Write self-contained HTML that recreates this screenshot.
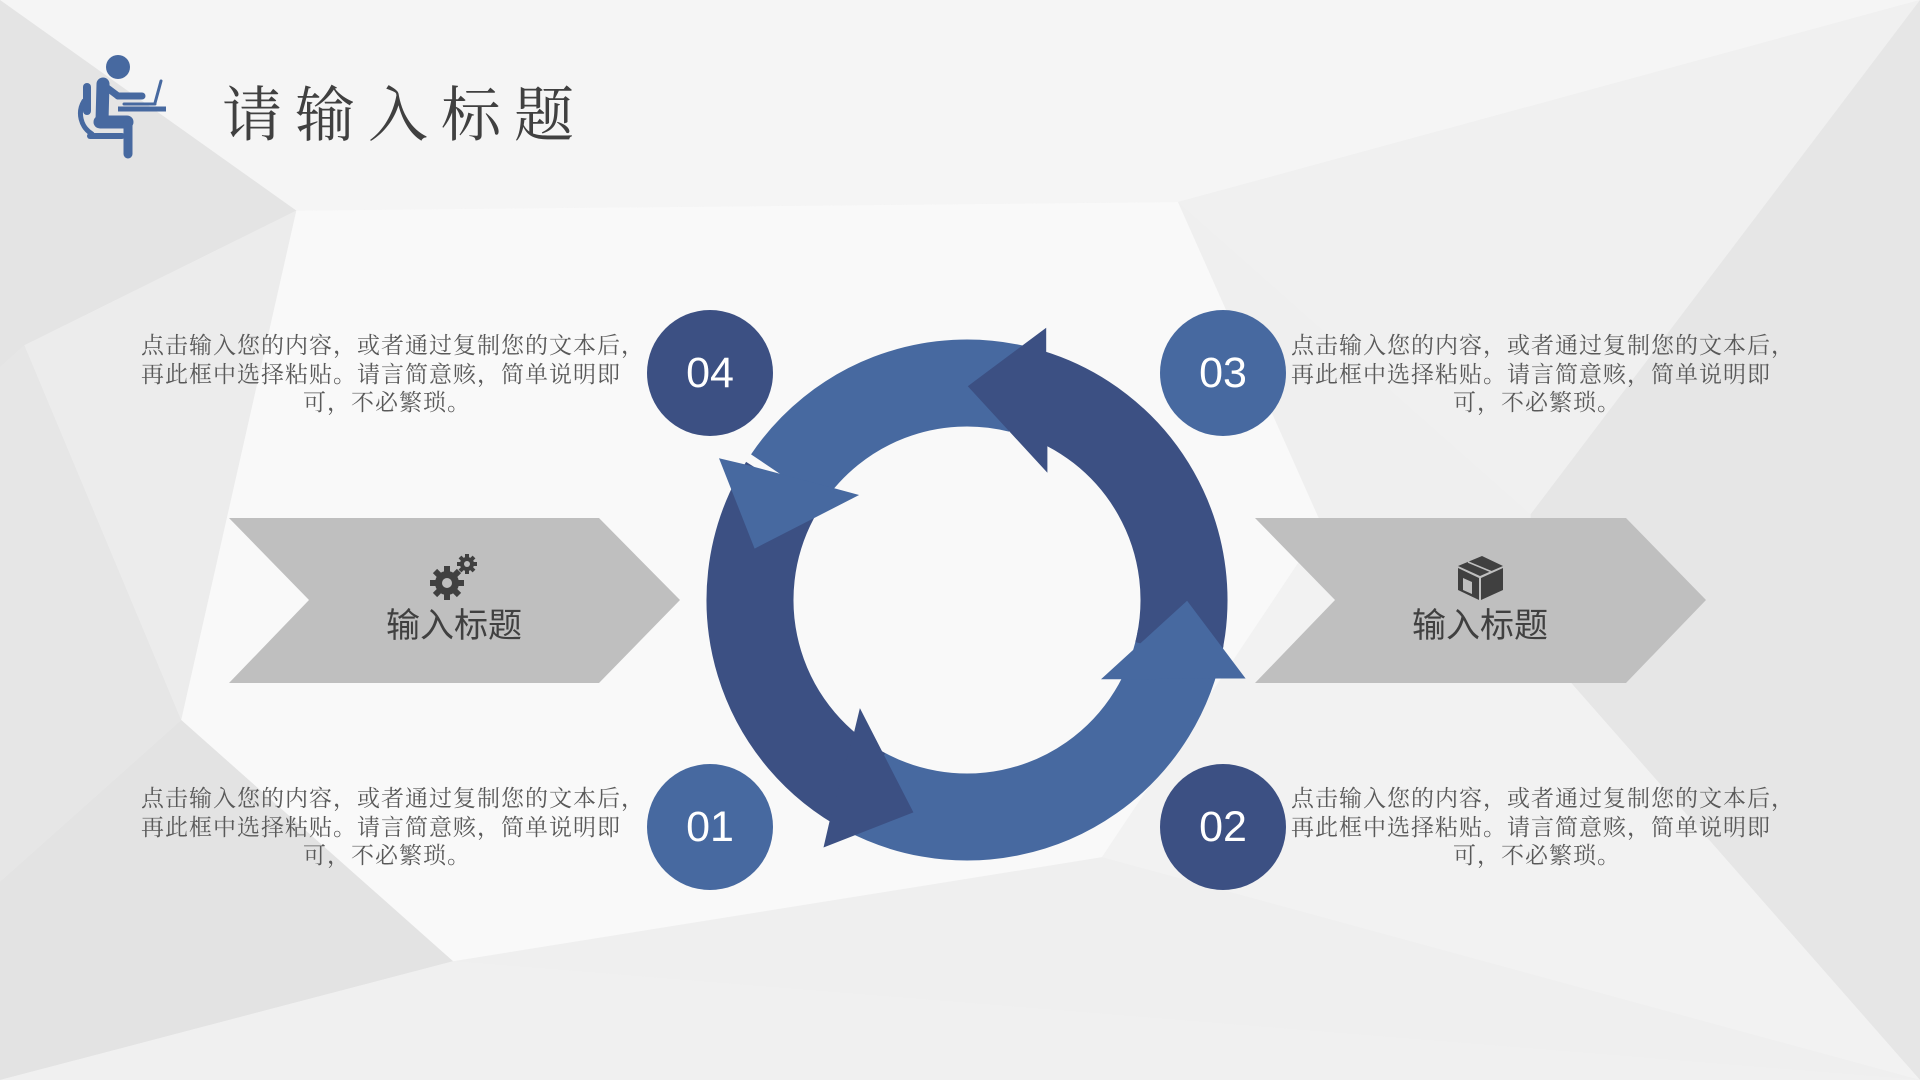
<!DOCTYPE html>
<html><head><meta charset="utf-8"><style>
html,body{margin:0;padding:0}
body{width:1920px;height:1080px;position:relative;overflow:hidden;background:#efefef;font-family:"Liberation Sans","Noto Sans CJK SC",sans-serif}
svg{position:absolute;left:0;top:0}
.t{position:absolute;width:492px;font-family:"Liberation Serif","Noto Serif CJK SC",serif;font-size:23px;line-height:28.5px;color:#595959;white-space:nowrap;letter-spacing:1px}
.t div{text-align:left}
.t div.c{text-align:center}
.title{position:absolute;left:222px;top:76px;font-family:"Liberation Serif","Noto Serif CJK SC",serif;font-size:60px;letter-spacing:13px;color:#404040;line-height:80px}
.lab{position:absolute;width:300px;text-align:center;font-size:34px;color:#404040;line-height:40px}
.num{position:absolute;width:126px;height:126px;border-radius:50%;color:#fff;font-size:43px;line-height:126px;text-align:center}
</style></head><body>
<svg width="1920" height="1080" viewBox="0 0 1568 882" preserveAspectRatio="none">
<polygon points="0,0 1568,0 962,165 242,172" fill="#f5f5f5"/>
<polygon points="0,0 242,172 20,282 0,300" fill="#e4e4e4"/>
<polygon points="0,300 20,282 148,588 0,720" fill="#e6e6e6"/>
<polygon points="20,282 242,172 148,588" fill="#ececec"/>
<polygon points="242,172 962,165 1080,430 900,700 370,785 148,588" fill="#f9f9f9"/>
<polygon points="148,588 370,785 0,882 0,720" fill="#e3e3e3"/>
<polygon points="370,785 1568,882 0,882" fill="#f0f0f0"/>
<polygon points="962,165 1568,0 1568,300 1250,420" fill="#f0f0f0"/>
<polygon points="1568,0 1568,882 1250,520 1250,420" fill="#e6e6e6"/>
<polygon points="1080,430 1250,520 1568,882 900,700" fill="#f2f2f2"/>
</svg>
<svg width="1920" height="1080">
<g fill="#4769a0" stroke="#4769a0" stroke-linecap="round">
<circle cx="118" cy="67" r="12" stroke="none"/>
<line x1="103" y1="84" x2="102" y2="121" stroke-width="13"/>
<line x1="106" y1="87" x2="118" y2="96" stroke-width="7"/>
<line x1="118" y1="96" x2="142" y2="96" stroke-width="7"/>
<line x1="100" y1="122" x2="127" y2="122" stroke-width="13"/>
<line x1="128" y1="123" x2="128" y2="154" stroke-width="9"/>
<line x1="87" y1="87" x2="87" y2="111" stroke-width="8"/>
<path d="M84 101 A24 24 0 0 0 92 134" fill="none" stroke-width="5"/>
<line x1="90" y1="136" x2="122" y2="136" stroke-width="6"/>
<line x1="118" y1="109" x2="166" y2="109" stroke-width="5" stroke-linecap="butt"/>
<line x1="155" y1="103" x2="161" y2="81" stroke-width="3"/>
<line x1="124" y1="104" x2="155" y2="104" stroke-width="3"/>
</g>
<polygon points="229,518 599,518 680,600 599,683 229,683 309,600" fill="#bfbfbf"/>
<polygon points="1255,518 1626,518 1706,600 1626,683 1255,683 1335,600" fill="#bfbfbf"/>
<g fill="#404040">
<circle cx="447" cy="583" r="12"/>
<g stroke="#404040" stroke-width="6">
<line x1="447" y1="566" x2="447" y2="600"/><line x1="430" y1="583" x2="464" y2="583"/>
<line x1="435" y1="571" x2="459" y2="595"/><line x1="459" y1="571" x2="435" y2="595"/>
</g>
<circle cx="447" cy="583" r="5" fill="#bfbfbf"/>
<circle cx="467" cy="564" r="7"/>
<g stroke="#404040" stroke-width="4">
<line x1="467" y1="554" x2="467" y2="574"/><line x1="457" y1="564" x2="477" y2="564"/>
<line x1="460" y1="557" x2="474" y2="571"/><line x1="474" y1="557" x2="460" y2="571"/>
</g>
<circle cx="467" cy="564" r="3" fill="#bfbfbf"/>
</g>
<g>
<polygon points="1458,566 1482,556 1503,566 1480,576" fill="#404040"/>
<polygon points="1458,568 1479,578 1479,600 1458,590" fill="#404040"/>
<polygon points="1481,578 1503,568 1503,590 1481,600" fill="#404040"/>
<polygon points="1463,578 1472,582 1472,594 1463,590" fill="#bfbfbf"/>
<line x1="1468" y1="562" x2="1492" y2="572" stroke="#bfbfbf" stroke-width="1.5"/>
</g>
<g fill="none" stroke-width="87">
<circle cx="967" cy="600" r="217" stroke="#3c5083" stroke-dasharray="356 2000" transform="rotate(118 967 600)"/>
<circle cx="967" cy="600" r="217" stroke="#4769a0" stroke-dasharray="409.1 2000" transform="rotate(10 967 600)"/>
</g>
<polygon points="859.9,708.1 913.4,812.4 823.5,847.5 829.3,822.4 854.1,732.1" fill="#3c5083"/>
<circle cx="967" cy="600" r="217" fill="none" stroke-width="87" stroke="#4769a0" stroke-dasharray="265 2000" transform="rotate(214 967 600)"/>
<polygon points="719,458.3 754.6,548.6 859.1,495 836.1,488.7 744.3,464.3" fill="#4769a0"/>
<circle cx="967" cy="600" r="217" fill="none" stroke-width="87" stroke="#3c5083" stroke-dasharray="329.5 2000" transform="rotate(-73 967 600)"/>
<polygon points="1046.2,327.7 967.8,386.2 1047.4,472.8 1047.4,448 1046.2,354.8" fill="#3c5083"/>
<polygon points="1187.1,600.8 1245.6,678.5 1218.8,678.5 1125,679.2 1101,679.2" fill="#4769a0"/>
</svg>
<div class="title">请输入标题</div>
<div class="num" style="left:647px;top:310px;background:#3c5083">04</div>
<div class="num" style="left:1160px;top:310px;background:#4769a0">03</div>
<div class="num" style="left:647px;top:764px;background:#4769a0">01</div>
<div class="num" style="left:1160px;top:764px;background:#3c5083">02</div>
<div class="lab" style="left:304px;top:606px">输入标题</div>
<div class="lab" style="left:1330px;top:606px">输入标题</div>
<div class="t" style="left:141px;top:332px"><div>点击输入您的内容，或者通过复制您的文本后，</div><div>再此框中选择粘贴。请言简意赅，简单说明即</div><div class="c">可，不必繁琐。</div></div>
<div class="t" style="left:1291px;top:332px"><div>点击输入您的内容，或者通过复制您的文本后，</div><div>再此框中选择粘贴。请言简意赅，简单说明即</div><div class="c">可，不必繁琐。</div></div>
<div class="t" style="left:141px;top:785px"><div>点击输入您的内容，或者通过复制您的文本后，</div><div>再此框中选择粘贴。请言简意赅，简单说明即</div><div class="c">可，不必繁琐。</div></div>
<div class="t" style="left:1291px;top:785px"><div>点击输入您的内容，或者通过复制您的文本后，</div><div>再此框中选择粘贴。请言简意赅，简单说明即</div><div class="c">可，不必繁琐。</div></div>
</body></html>
